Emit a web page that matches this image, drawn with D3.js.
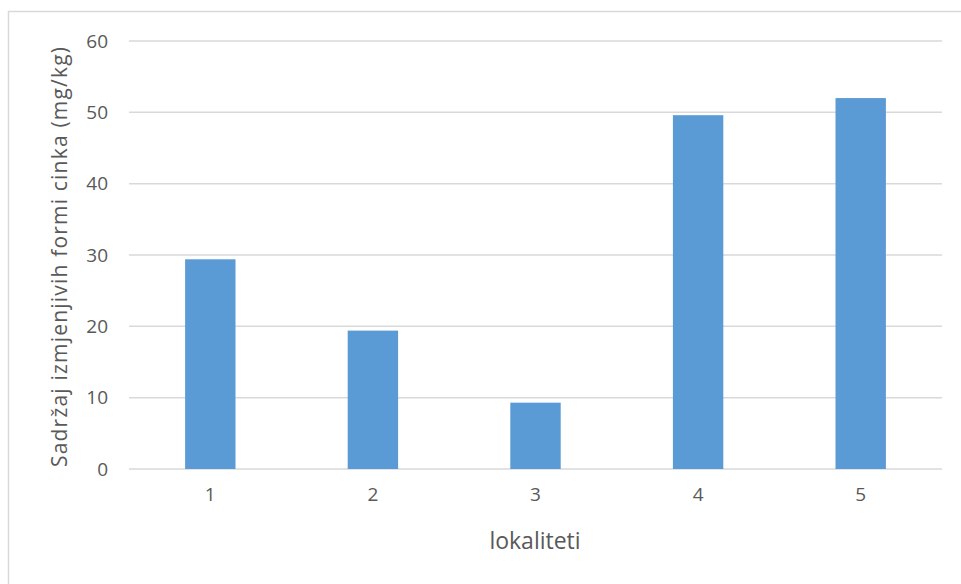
<!DOCTYPE html>
<html>
<head>
<meta charset="utf-8">
<script src="https://cdn.jsdelivr.net/npm/d3@7/dist/d3.min.js"></script>
<style>
  html, body { margin: 0; padding: 0; background: #fff; }
  svg { display: block; }
  text { font-family: "Open Sans", "Liberation Sans", sans-serif; fill: #595959; }
</style>
</head>
<body>
<svg id="chart" width="961" height="584"></svg>
<script>
// Exchangeable zinc content per locality
const categories = ["1", "2", "3", "4", "5"];
const values = [29.4, 19.4, 9.3, 49.6, 52.0];
const yTicks = [0, 10, 20, 30, 40, 50, 60];
const xTitle = "lokaliteti";
const yTitle = "Sadržaj izmjenjivih formi cinka (mg/kg)";

const svg = d3.select("#chart");
const W = 961, H = 584;
const m = { left: 129, right: 19, top: 41, bottom: 115 };
const plotW = W - m.left - m.right;
const plotH = H - m.top - m.bottom;

// chart frame
svg.append("rect")
  .attr("x", 8.5).attr("y", 11.5)
  .attr("width", 980).attr("height", 600)
  .attr("fill", "none").attr("stroke", "#d9d9d9").attr("stroke-width", 1.5);

const x = d3.scaleBand().domain(categories).range([0, plotW])
  .paddingInner(0.69).paddingOuter(0.345);
const y = d3.scaleLinear().domain([0, 60]).range([plotH, 0]);

const g = svg.append("g").attr("transform", `translate(${m.left},${m.top})`);

// horizontal gridlines
g.append("g").selectAll("line").data(yTicks).join("line")
  .attr("x1", 0).attr("x2", plotW)
  .attr("y1", d => y(d)).attr("y2", d => y(d))
  .attr("stroke", "#d9d9d9").attr("stroke-width", 1.5);

// y tick labels
const yAxis = g.append("g").call(d3.axisLeft(y).tickValues(yTicks).tickSize(0).tickPadding(21));
yAxis.select(".domain").remove();
yAxis.selectAll("text").style("font-size", "19px").attr("fill", "#595959")
  .style("font-family", "'Open Sans', sans-serif");

// bars
g.append("g").selectAll("rect").data(values).join("rect")
  .attr("x", (d, i) => x(categories[i]))
  .attr("width", x.bandwidth())
  .attr("y", d => y(d))
  .attr("height", d => plotH - y(d))
  .attr("fill", "#5b9bd5");

// x tick labels
const xAxis = g.append("g").attr("transform", `translate(0,${plotH})`)
  .call(d3.axisBottom(x).tickSize(0).tickPadding(19));
xAxis.select(".domain").remove();
xAxis.selectAll("text").style("font-size", "19px").attr("fill", "#595959")
  .style("font-family", "'Open Sans', sans-serif");

// axis titles
svg.append("text")
  .attr("x", 535).attr("y", 549)
  .attr("text-anchor", "middle")
  .style("font-size", "23px")
  .text(xTitle);

svg.append("text")
  .attr("transform", `translate(67,257) rotate(-90)`)
  .attr("text-anchor", "middle")
  .style("font-size", "21px")
  .attr("textLength", 420)
  .attr("lengthAdjust", "spacing")
  .text(yTitle);
</script>
</body>
</html>
